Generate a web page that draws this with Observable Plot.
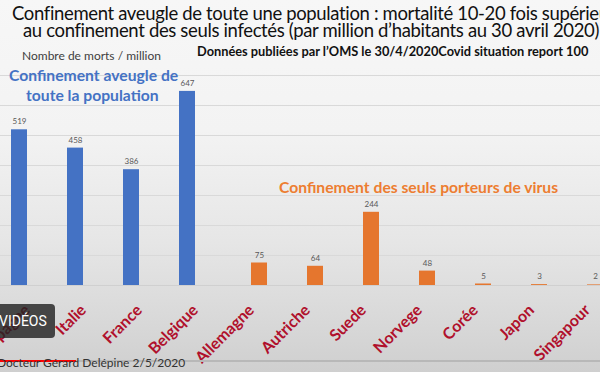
<!DOCTYPE html>
<html><head><meta charset="utf-8">
<script src="https://cdn.jsdelivr.net/npm/d3@7"></script>
<script src="https://cdn.jsdelivr.net/npm/@observablehq/plot@0.6"></script>
<style>
html,body{margin:0;padding:0}
body{width:600px;height:372px;overflow:hidden;position:relative;font-family:Lato,"Open Sans",sans-serif;
background:linear-gradient(180deg,#f7f7f7 0%,#f3f3f3 35%,#e6e6e6 65%,#d6d6d6 90%,#cfcfcf 100%)}
.t{position:absolute;white-space:nowrap;line-height:1}
#chart{position:absolute;left:0;top:0}
</style></head><body>
<div id="chart"></div>
<div class="t" style="left:12px;top:4px;font-size:18.5px;letter-spacing:-0.35px;color:#111">Confinement aveugle de toute une population : mortalité 10-20 fois supérieure</div>
<div class="t" style="left:23px;top:21px;font-size:18.5px;letter-spacing:-0.35px;color:#111">au confinement des seuls infectés (par million d’habitants au 30 avril 2020)</div>
<div class="t" style="left:197px;top:45px;font-size:12.8px;font-weight:bold;color:#111">Données publiées par l’OMS le 30/4/2020Covid situation report 100</div>
<div class="t" style="left:22px;top:50px;font-size:12px;color:#404040">Nombre de morts / million</div>
<div class="t" style="left:9px;top:68px;font-size:15.7px;font-weight:bold;color:#4472c4">Confinement aveugle de</div>
<div class="t" style="left:26px;top:88px;font-size:15.7px;font-weight:bold;color:#4472c4">toute la population</div>
<div class="t" style="left:279px;top:180px;font-size:15.7px;font-weight:bold;color:#ed7d31">Confinement des seuls porteurs de virus</div>
<div style="position:absolute;left:-6px;top:304px;width:61px;height:34px;background:rgba(35,35,35,0.82);border-radius:4px"></div>
<div class="t" style="left:-1px;top:314px;font-family:Roboto;font-size:14px;color:#fff">VIDÉOS</div>
<div style="position:absolute;left:0;top:360px;width:600px;height:2px;background:#b8b8b8"></div>
<div style="position:absolute;left:0;top:360px;width:76px;height:2px;background:#ff0000"></div>
<div class="t" style="left:-3px;top:357px;font-size:12px;color:#333">Docteur Gérard Delépine 2/5/2020</div>
<script>
const countries = ["Espagne","Italie","France","Belgique","Allemagne","Autriche","Suede","Norvege","Corée","Japon","Singapour"];
const deaths = [519, 458, 386, 647, 75, 64, 244, 48, 5, 3, 2];
const groups = ["aveugle","aveugle","aveugle","aveugle","porteurs","porteurs","porteurs","porteurs","porteurs","porteurs","porteurs"];
const yTicks = [100, 200, 300, 400, 500, 600, 700];

const data = countries.map((c, i) => ({country: c, value: deaths[i], group: groups[i]}));
const blue = data.filter(d => d.group === "aveugle");
const orange = data.filter(d => d.group === "porteurs");

const chart = Plot.plot({
  width: 600,
  height: 372,
  marginTop: 75,
  marginBottom: 87,
  marginLeft: 0,
  marginRight: 0,
  style: {background: "transparent", fontFamily: "Lato"},
  x: {domain: countries, range: [-4.3, 618.3], paddingInner: 0.4346, paddingOuter: 0.2173},
  y: {domain: [0, 700], axis: null},
  marks: [
    Plot.gridY({ticks: yTicks, stroke: "#d9d9d9", strokeOpacity: 1}),
    Plot.ruleY([0], {stroke: "#d0d0d0"}),
    Plot.barY(blue, {x: "country", y: "value", fill: "#4472c4", insetRight: 16}),
    Plot.barY(orange, {x: "country", y: "value", fill: "#e5762e", insetLeft: 16}),
    Plot.text(blue, {x: "country", y: "value", text: d => String(d.value), dx: -8, dy: -8, fontSize: 8, fill: "#595959"}),
    Plot.text(orange, {x: "country", y: "value", text: d => String(d.value), dx: 8, dy: -8, fontSize: 8, fill: "#595959"}),
    Plot.axisX({tickRotate: -45, tickSize: 0, tickPadding: 22, fontSize: 16, fontWeight: "bold", fill: "#b0102c", label: null})
  ]
});
document.getElementById("chart").append(chart);
</script>
</body></html>
